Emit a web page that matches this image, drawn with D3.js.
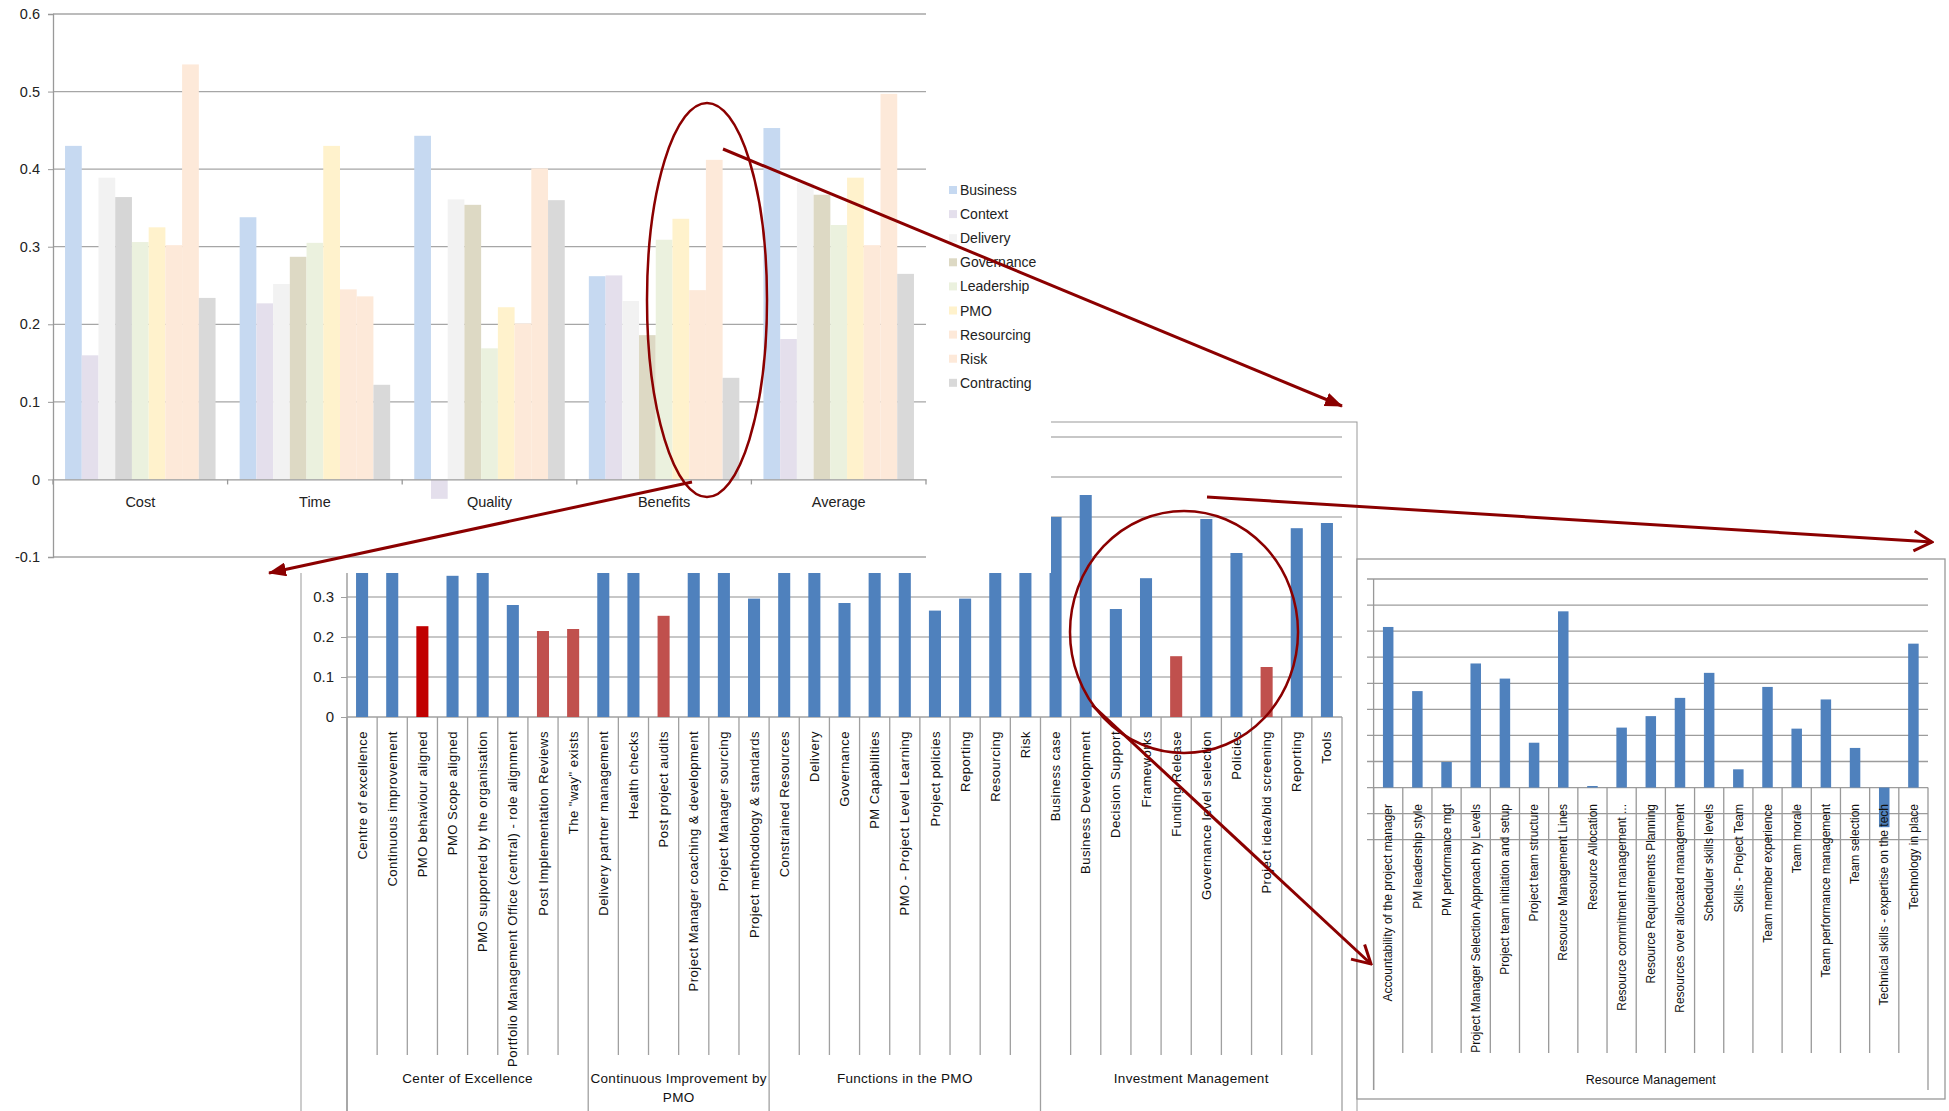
<!DOCTYPE html>
<html>
<head>
<meta charset="utf-8">
<script src="https://cdn.jsdelivr.net/npm/d3@7"></script>
<style>
  body { margin: 0; background: #fff; }
  svg { display: block; font-family: "Liberation Sans", Arial, sans-serif; }
</style>
</head>
<body>
<div id="d3-container"></div>
<script>
/* DATA */
// top chart: driver averages per outcome
const outcomes = ["Cost", "Time", "Quality", "Benefits", "Average"];
const drivers = ["Business", "Context", "Delivery", "Governance", "Leadership", "PMO", "Resourcing", "Risk", "Contracting"];
const business = [0.430, 0.338, 0.443, 0.262, 0.453];
const context = [0.160, 0.227, -0.025, 0.263, 0.181];
const delivery = [0.389, 0.252, 0.361, 0.230, 0.382];
const governance = [0.364, 0.287, 0.354, 0.186, 0.367];
const leadership = [0.306, 0.305, 0.169, 0.309, 0.328];
const pmo = [0.325, 0.430, 0.222, 0.336, 0.389];
const resourcing = [0.302, 0.245, 0.201, 0.244, 0.302];
const risk = [0.535, 0.236, 0.401, 0.412, 0.497];
const contracting = [0.234, 0.122, 0.360, 0.131, 0.265];
const topTicks = [-0.1, 0, 0.1, 0.2, 0.3, 0.4, 0.5, 0.6];

// middle chart: PMO factors
const pmoFactors = ["Centre of excellence", "Continuous improvement", "PMO behaviour aligned", "PMO Scope aligned",
  "PMO supported by the organisation", "Portfolio Management Office (central) - role alignment",
  "Post Implementation Reviews", "The \"way\" exists",
  "Delivery partner management", "Health checks", "Post project audits", "Project Manager coaching & development",
  "Project Manager sourcing", "Project methodology & standards",
  "Constrained Resources", "Delivery", "Governance", "PM Capabilities", "PMO - Project Level Learning",
  "Project policies", "Reporting", "Resourcing", "Risk",
  "Business case", "Business Development", "Decision Support", "Frameworks", "Funding Release",
  "Governance level selection", "Policies", "Project idea/bid screening", "Reporting", "Tools"];
const pmoValues = [0.46, 0.44, 0.227, 0.353, 0.45, 0.28, 0.215, 0.22,
  0.42, 0.43, 0.253, 0.41, 0.40, 0.296,
  0.44, 0.42, 0.285, 0.45, 0.43, 0.266, 0.296, 0.41, 0.40,
  0.50, 0.555, 0.27, 0.347, 0.152, 0.495, 0.41, 0.125, 0.472, 0.485];
const pmoGroups = ["Center of Excellence", "Continuous Improvement by PMO", "Functions in the PMO", "Investment Management"];
const pmoGroupSizes = [8, 6, 9, 10];
const pmoWeak = [6, 7, 10, 27, 30];   // index of the red bars
const pmoWorst = [2];                 // darkest red
const pmoTicks = [0, 0.1, 0.2, 0.3, 0.4, 0.5, 0.6, 0.7];

// right chart: resource management
const rmFactors = ["Accountability of the project manager", "PM leadership style", "PM performance mgt",
  "Project Manager Selection Approach by Levels", "Project team initiation  and setup", "Project team structure",
  "Resource  Management Lines", "Resource Allocation", "Resource commitment management ...",
  "Resource Requirements Planning", "Resources over allocated management", "Scheduler skills levels",
  "Skills - Project Team", "Team member  experience", "Team morale", "Team performance  management",
  "Team selection", "Technical skills - expertise on the tech", "Technology in place"];
const rmValues = [0.308, 0.185, 0.049, 0.238, 0.209, 0.086, 0.338, 0.003, 0.115, 0.137,
  0.172, 0.220, 0.035, 0.193, 0.113, 0.169, 0.076, -0.076, 0.276];
const rmGroup = "Resource Management";
const rmTicks = [-0.1, -0.05, 0, 0.05, 0.1, 0.15, 0.2, 0.25, 0.3, 0.35, 0.4];

/* CONSTANTS */
const width = 1949, height = 1111;
const driverColors = ["#c6d9f1", "#e4dfec", "#f2f2f2", "#ddd9c4", "#ebf1de", "#fff2cc", "#fde9d9", "#fde9d9", "#d9d9d9"];
const blue = "#4f81bd", red = "#c0504d", darkRed = "#c00000";
const grid = "#b4b4b4", axisGrey = "#a0a0a0";
const ink = "#8b0000";
const fmt = d => d === 0 ? "0" : d.toFixed(1);

const svg = d3.select("#d3-container").append("svg")
  .attr("width", width).attr("height", height);

const defs = svg.append("defs");
defs.append("marker").attr("id", "solid")
  .attr("viewBox", "0 0 18 14").attr("refX", 17).attr("refY", 7)
  .attr("markerWidth", 18).attr("markerHeight", 14)
  .attr("markerUnits", "userSpaceOnUse").attr("orient", "auto")
  .append("path").attr("d", "M0,0L18,7L0,14Z").attr("fill", ink);
defs.append("marker").attr("id", "open")
  .attr("viewBox", "-2 -2 22 24").attr("refX", 18).attr("refY", 10)
  .attr("markerWidth", 22).attr("markerHeight", 24)
  .attr("markerUnits", "userSpaceOnUse").attr("orient", "auto")
  .append("path").attr("d", "M0,0L18,10L0,20").attr("fill", "none")
  .attr("stroke", ink).attr("stroke-width", 3);

/* MIDDLE CHART (drawn first, partly hidden by the top chart) */
function drawMiddle() {
  const g = svg.append("g");
  const x = d3.scaleBand().domain(d3.range(pmoFactors.length)).range([347, 1342]);
  const y = d3.scaleLinear().domain([0, 0.7]).range([717, 437]);

  g.append("rect").attr("x", 301).attr("y", 422).attr("width", 1056).attr("height", 800)
    .attr("fill", "#fff").attr("stroke", "#999");

  g.selectAll("line.grid").data(pmoTicks.slice(1)).join("line")
    .attr("class", "grid")
    .attr("x1", 347).attr("x2", 1342)
    .attr("y1", d => y(d)).attr("y2", d => y(d))
    .attr("stroke", grid).attr("stroke-width", 1.5);

  const yAxis = d3.axisLeft(y).tickValues(pmoTicks).tickSize(6).tickPadding(7).tickFormat(fmt);
  const ya = g.append("g").attr("transform", "translate(347,0)").call(yAxis);
  ya.select(".domain").remove();
  ya.selectAll("line").attr("stroke", axisGrey);
  ya.selectAll("text").attr("font-size", 15).attr("font-family", "Liberation Sans").attr("fill", "#222");

  g.append("line").attr("x1", 347).attr("x2", 347).attr("y1", 437).attr("y2", 1111)
    .attr("stroke", axisGrey).attr("stroke-width", 1.5);
  g.append("line").attr("x1", 347).attr("x2", 1342).attr("y1", y(0)).attr("y2", y(0))
    .attr("stroke", axisGrey).attr("stroke-width", 1.5);

  const barW = x.bandwidth() * 0.4;
  g.selectAll("rect.bar").data(pmoValues).join("rect")
    .attr("class", "bar")
    .attr("x", (d, i) => x(i) + (x.bandwidth() - barW) / 2)
    .attr("width", barW)
    .attr("y", d => y(d))
    .attr("height", d => y(0) - y(d))
    .attr("fill", (d, i) => pmoWorst.includes(i) ? darkRed : pmoWeak.includes(i) ? red : blue);

  // separators: short for each factor, long at group edges
  let edges = [0];
  pmoGroupSizes.forEach(s => edges.push(edges[edges.length - 1] + s));
  const seps = d3.range(pmoFactors.length + 1);
  g.selectAll("line.sep").data(seps).join("line")
    .attr("class", "sep")
    .attr("x1", i => 347 + i * x.bandwidth()).attr("x2", i => 347 + i * x.bandwidth())
    .attr("y1", y(0)).attr("y2", i => edges.includes(i) ? 1111 : 1055)
    .attr("stroke", axisGrey).attr("stroke-width", 1.3);

  g.selectAll("text.cat").data(pmoFactors).join("text")
    .attr("class", "cat")
    .attr("transform", (d, i) => `translate(${x(i) + x.bandwidth() / 2},731) rotate(-90)`)
    .attr("text-anchor", "end").attr("dy", "0.35em")
    .attr("font-size", 13).attr("letter-spacing", 0.5).attr("fill", "#111")
    .text(d => d);

  const gl = g.selectAll("text.grp").data(pmoGroups).join("text")
    .attr("class", "grp")
    .attr("text-anchor", "middle").attr("font-size", 13.5).attr("letter-spacing", 0.3).attr("fill", "#111")
    .attr("x", (d, i) => 347 + (edges[i] + edges[i + 1]) / 2 * x.bandwidth())
    .attr("y", 1083);
  gl.filter(d => d.length > 25)
    .text(null)
    .selectAll("tspan").data(d => [d.replace(/ PMO$/, ""), "PMO"]).join("tspan")
    .attr("x", function () { return this.parentNode.getAttribute("x"); })
    .attr("dy", (d, i) => i ? 19 : 0)
    .text(d => d);
  gl.filter(d => d.length <= 25).text(d => d);
}

/* TOP CHART */
function drawTop() {
  const g = svg.append("g");
  g.append("rect").attr("x", 0).attr("y", 0).attr("width", 1051).attr("height", 573).attr("fill", "#fff");

  const x0 = d3.scaleBand().domain(outcomes).range([53, 926]);
  const x1 = d3.scaleBand().domain(drivers).range([x0.bandwidth() * 0.069, x0.bandwidth() * 0.931]);
  const y = d3.scaleLinear().domain([-0.1, 0.6]).range([557, 14]);

  g.selectAll("line.grid").data(topTicks.filter(d => d !== 0)).join("line")
    .attr("class", "grid")
    .attr("x1", 53).attr("x2", 926)
    .attr("y1", d => y(d)).attr("y2", d => y(d))
    .attr("stroke", "#a6a6a6").attr("stroke-width", 1.3);

  const table = drivers.map((name, k) => ({
    name, color: driverColors[k],
    values: [business, context, delivery, governance, leadership, pmo, resourcing, risk, contracting][k]
  }));
  const bars = [];
  table.forEach(s => s.values.forEach((v, j) => bars.push({ outcome: outcomes[j], driver: s.name, v, color: s.color })));

  g.selectAll("rect.bar").data(bars).join("rect")
    .attr("class", "bar")
    .attr("x", d => x0(d.outcome) + x1(d.driver))
    .attr("width", x1.bandwidth())
    .attr("y", d => y(Math.max(0, d.v)))
    .attr("height", d => Math.abs(y(d.v) - y(0)))
    // the Cost / Governance bar is grey in the source picture
    .attr("fill", d => d.outcome === "Cost" && d.driver === "Governance" ? "#d6d6d6" : d.color);

  const yAxis = d3.axisLeft(y).tickValues(topTicks).tickSize(5).tickPadding(8).tickFormat(fmt);
  const ya = g.append("g").attr("transform", "translate(53,0)").call(yAxis);
  ya.select(".domain").attr("stroke", "#999").attr("stroke-width", 1.3);
  ya.selectAll("line").attr("stroke", "#999");
  ya.selectAll("text").attr("font-size", 14.5).attr("font-family", "Liberation Sans").attr("fill", "#222");

  const xAxis = d3.axisBottom(x0).tickSize(0).tickPadding(17);
  const xa = g.append("g").attr("transform", `translate(0,${y(0)})`).call(xAxis);
  xa.select(".domain").attr("stroke", "#999").attr("stroke-width", 1.3);
  xa.selectAll("text").attr("font-size", 14.5).attr("font-family", "Liberation Sans").attr("fill", "#222");
  g.selectAll("line.xt").data(outcomes.map(o => x0(o)).concat([926])).join("line")
    .attr("class", "xt")
    .attr("x1", d => d).attr("x2", d => d).attr("y1", y(0)).attr("y2", y(0) + 5)
    .attr("stroke", "#999").attr("stroke-width", 1.3);

  // legend
  const lg = g.selectAll("g.leg").data(table).join("g")
    .attr("class", "leg")
    .attr("transform", (d, i) => `translate(949,${190 + i * 24.1})`);
  lg.append("rect").attr("x", 0).attr("y", -4).attr("width", 8).attr("height", 8).attr("fill", d => d.color);
  lg.append("text").attr("x", 11).attr("dy", "0.36em").attr("font-size", 14).attr("fill", "#222").text(d => d.name);
}

/* RIGHT CHART */
function drawRight() {
  const g = svg.append("g");
  g.append("rect").attr("x", 1357).attr("y", 559).attr("width", 588).attr("height", 540)
    .attr("fill", "#fff").attr("stroke", "#999").attr("stroke-width", 1.3);

  const x = d3.scaleBand().domain(d3.range(rmFactors.length)).range([1373.6, 1928]);
  const y = d3.scaleLinear().domain([-0.1, 0.4]).range([839.7, 579]);

  g.selectAll("line.grid").data(rmTicks).join("line")
    .attr("class", "grid")
    .attr("x1", 1367).attr("x2", 1928)
    .attr("y1", d => y(d)).attr("y2", d => y(d))
    .attr("stroke", "#9c9c9c").attr("stroke-width", 1.3);

  g.append("line").attr("x1", 1373.6).attr("x2", 1373.6).attr("y1", 579).attr("y2", 1090)
    .attr("stroke", "#999").attr("stroke-width", 1.3);

  const barW = x.bandwidth() * 0.36;
  g.selectAll("rect.bar").data(rmValues).join("rect")
    .attr("class", "bar")
    .attr("x", (d, i) => x(i) + (x.bandwidth() - barW) / 2)
    .attr("width", barW)
    .attr("y", d => y(Math.max(0, d)))
    .attr("height", d => Math.abs(y(d) - y(0)))
    .attr("fill", blue);

  const n = rmFactors.length;
  g.selectAll("line.sep").data(d3.range(n + 1)).join("line")
    .attr("class", "sep")
    .attr("x1", i => 1373.6 + i * x.bandwidth()).attr("x2", i => 1373.6 + i * x.bandwidth())
    .attr("y1", y(0)).attr("y2", i => i === 0 || i === n ? 1090 : 1053)
    .attr("stroke", "#999").attr("stroke-width", 1.3);

  g.selectAll("text.cat").data(rmFactors).join("text")
    .attr("class", "cat")
    .attr("transform", (d, i) => `translate(${x(i) + x.bandwidth() / 2},804) rotate(-90)`)
    .attr("text-anchor", "end").attr("dy", "0.35em")
    .attr("font-size", 12).attr("fill", "#111")
    .text(d => d);

  g.append("text").attr("x", (1373.6 + 1928) / 2).attr("y", 1084)
    .attr("text-anchor", "middle").attr("font-size", 12.5).attr("fill", "#111")
    .text(rmGroup);
}

/* CALL-OUTS */
function drawNotes() {
  const g = svg.append("g").attr("fill", "none").attr("stroke", ink);
  g.append("ellipse").attr("cx", 707).attr("cy", 300).attr("rx", 60).attr("ry", 197).attr("stroke-width", 2.5);
  g.append("ellipse").attr("cx", 1184).attr("cy", 632).attr("rx", 114).attr("ry", 121).attr("stroke-width", 2.5);

  const arrows = [
    { x1: 723, y1: 149, x2: 1342, y2: 406, head: "solid" },
    { x1: 692, y1: 482, x2: 269, y2: 573, head: "solid" },
    { x1: 1207, y1: 497, x2: 1932, y2: 542, head: "open" },
    { x1: 1092, y1: 705, x2: 1371, y2: 964, head: "open" }
  ];
  g.selectAll("line").data(arrows).join("line")
    .attr("x1", d => d.x1).attr("y1", d => d.y1)
    .attr("x2", d => d.x2).attr("y2", d => d.y2)
    .attr("stroke-width", 3)
    .attr("marker-end", d => `url(#${d.head})`);
}

drawMiddle();
drawTop();
drawRight();
drawNotes();
</script>
</body>
</html>
